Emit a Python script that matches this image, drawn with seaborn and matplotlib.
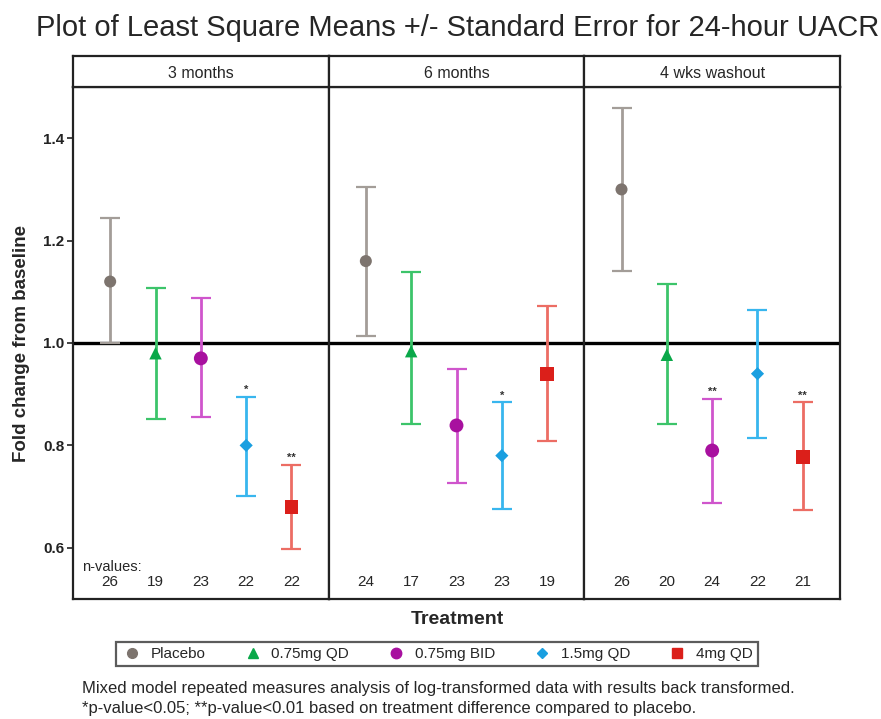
import numpy as np
import pandas as pd
import matplotlib.pyplot as plt
import seaborn as sns
from matplotlib.lines import Line2D

# data
periods = ['3 months', '6 months', '4 wks washout']
treatments = ['Placebo', '0.75mg QD', '0.75mg BID', '1.5mg QD', '4mg QD']

means_3m = [1.12, 0.98, 0.97, 0.80, 0.68]
lower_3m = [1.00, 0.852, 0.855, 0.702, 0.597]
upper_3m = [1.245, 1.107, 1.087, 0.895, 0.762]

means_6m = [1.16, 0.984, 0.839, 0.78, 0.94]
lower_6m = [1.014, 0.842, 0.727, 0.675, 0.808]
upper_6m = [1.305, 1.139, 0.95, 0.884, 1.072]

means_wo = [1.30, 0.977, 0.79, 0.94, 0.778]
lower_wo = [1.141, 0.841, 0.688, 0.814, 0.673]
upper_wo = [1.459, 1.116, 0.89, 1.065, 0.884]

n_3m = [26, 19, 23, 22, 22]
n_6m = [24, 17, 23, 23, 19]
n_wo = [26, 20, 24, 22, 21]

stars_3m = ['', '', '', '*', '**']
stars_6m = ['', '', '', '*', '']
stars_wo = ['', '', '**', '', '**']

marker_cols = ['#7d746e', '#0aa849', '#a8109f', '#1a9fe0', '#db1f1a']
bar_cols = ['#a39d98', '#3cc46a', '#cf55cc', '#38b6ee', '#ec6d64']
markers = ['o', '^', 'o', 'D', 's']
msizes = [75, 80, 100, 45, 100]

rows = []
for p, m, lo, up, n, st in zip(periods,
                               [means_3m, means_6m, means_wo],
                               [lower_3m, lower_6m, lower_wo],
                               [upper_3m, upper_6m, upper_wo],
                               [n_3m, n_6m, n_wo],
                               [stars_3m, stars_6m, stars_wo]):
    for i, t in enumerate(treatments):
        rows.append({'period': p, 'treatment': t, 'pos': i, 'mean': m[i],
                     'lower': lo[i], 'upper': up[i], 'n': n[i], 'star': st[i]})
df = pd.DataFrame(rows)

sns.set_style('white')
plt.rcParams['font.family'] = ['Liberation Sans', 'DejaVu Sans']

W, H = 881, 719
fig = plt.figure(figsize=(W / 100, H / 100), dpi=100)

left_px, right_px = 73, 840
top_px, bot_px, strip_top = 87, 599, 56
pw = (right_px - left_px) / 3

axes = []
for k, p in enumerate(periods):
    x0 = (left_px + k * pw) / W
    ax = fig.add_axes([x0, 1 - bot_px / H, pw / W, (bot_px - top_px) / H])
    sax = fig.add_axes([x0, 1 - top_px / H, pw / W, (top_px - strip_top) / H])
    sax.set_xticks([]); sax.set_yticks([])
    for s in sax.spines.values():
        s.set_color('#222222'); s.set_linewidth(1.6)
    sax.text(0.5, 0.45, p, ha='center', va='center', fontsize=11.5, transform=sax.transAxes)

    d = df[df['period'] == p]
    ax.axhline(1.0, color='black', lw=2.4, zorder=1)
    for i, r in d.reset_index().iterrows():
        ax.errorbar(r['pos'], r['mean'],
                    yerr=[[r['mean'] - r['lower']], [r['upper'] - r['mean']]],
                    fmt='none', ecolor=bar_cols[i], elinewidth=2, capsize=7.5,
                    capthick=1.6, zorder=2)
        if r['star']:
            ax.text(r['pos'], r['upper'] + 0.004, r['star'], ha='center', va='bottom',
                    fontsize=8, fontweight='bold', color='#333333')
        ax.text(r['pos'], 0.533, str(r['n']), ha='center', va='center', fontsize=11)
    sns.scatterplot(data=d, x='pos', y='mean', hue='treatment', style='treatment',
                    size='treatment', sizes=dict(zip(treatments, msizes)),
                    palette=dict(zip(treatments, marker_cols)),
                    markers=dict(zip(treatments, markers)),
                    linewidth=0, legend=False, ax=ax, zorder=3)
    if k == 0:
        ax.text(-0.62, 0.562, 'n-values:', ha='left', va='center', fontsize=10.5)
    ax.set_xlim(-0.82, 4.82)
    ax.set_ylim(0.5, 1.5)
    ax.set_xticks([])
    ax.set_xlabel('')
    ax.set_ylabel('')
    for s in ax.spines.values():
        s.set_color('#222222'); s.set_linewidth(1.6)
    if k == 0:
        ax.set_yticks([0.6, 0.8, 1.0, 1.2, 1.4])
        ax.set_yticklabels(['0.6', '0.8', '1.0', '1.2', '1.4'], fontweight='bold', fontsize=11)
        ax.tick_params(axis='y', length=4, width=1.2, left=True, pad=2, colors='#222222')
    else:
        ax.set_yticks([])
    axes.append(ax)

fig.text(22 / W, 1 - 343 / H, 'Fold change from baseline', rotation=90, ha='center',
         va='center', fontsize=13.5, fontweight='bold')
fig.text(457 / W, 1 - 619 / H, 'Treatment', ha='center', va='center', fontsize=14,
         fontweight='bold')
fig.text(458 / W, 1 - 28 / H, 'Plot of Least Square Means +/- Standard Error for 24-hour UACR',
         ha='center', va='center', fontsize=21)

handles = [Line2D([], [], marker=m, color=c, linestyle='none', markersize=s)
           for m, c, s in zip(markers, marker_cols, [7, 7.5, 7.5, 5.5, 7.5])]
leg = fig.legend(handles, treatments, loc='center', ncol=5,
                 bbox_to_anchor=(437 / W, 1 - 654 / H), frameon=True, fontsize=11,
                 handletextpad=0.5, columnspacing=2.4, handlelength=1.4,
                 borderpad=0.35, fancybox=False)
leg.get_frame().set_edgecolor('#333333')
leg.get_frame().set_linewidth(1.6)

fig.text(82 / W, 1 - 688 / H,
         'Mixed model repeated measures analysis of log-transformed data with results back transformed.',
         ha='left', va='center', fontsize=12)
fig.text(82 / W, 1 - 708 / H,
         '*p-value<0.05; **p-value<0.01 based on treatment difference compared to placebo.',
         ha='left', va='center', fontsize=12)

fig.savefig('out.png', dpi=100)
